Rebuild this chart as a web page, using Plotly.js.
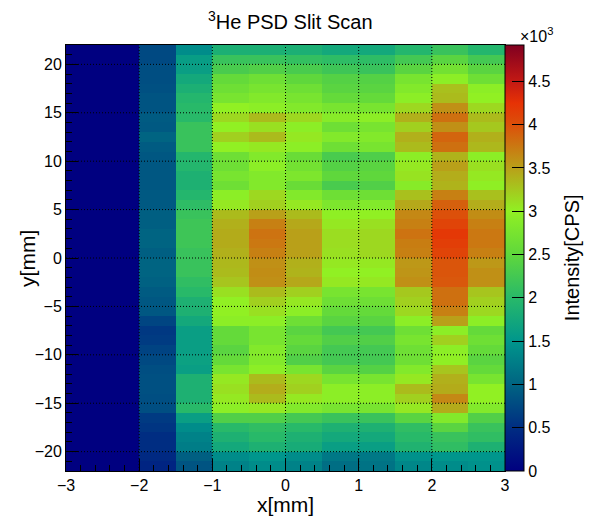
<!DOCTYPE html>
<html>
<head>
<meta charset="utf-8">
<script src="https://cdn.plot.ly/plotly-3.0.1.min.js"></script>
<style>html,body{margin:0;padding:0;background:#fff;}#plot{width:596px;height:516px;}</style>
</head>
<body>
<div id="plot"></div>
<script>
const xCenters = [-2.75, -2.25, -1.75, -1.25, -0.75, -0.25, 0.25, 0.75, 1.25, 1.75, 2.25, 2.75];
const yCenters = [21.5, 20.5, 19.5, 18.5, 17.5, 16.5, 15.5, 14.5, 13.5, 12.5, 11.5, 10.5,
  9.5, 8.5, 7.5, 6.5, 5.5, 4.5, 3.5, 2.5, 1.5, 0.5, -0.5, -1.5, -2.5, -3.5, -4.5, -5.5,
  -6.5, -7.5, -8.5, -9.5, -10.5, -11.5, -12.5, -13.5, -14.5, -15.5, -16.5, -17.5, -18.5,
  -19.5, -20.5, -21.5];
// intensity rows [CPS], top (y=21.5) to bottom (y=-21.5)
const intensityRows = [
  [0,0,750,1400,1850,1850,1850,1750,1750,1950,2150,1950],
  [0,0,750,1600,2150,2150,2100,2050,2050,2250,2450,2250],
  [0,0,800,1620,2300,2370,2300,2200,2150,2450,2700,2450],
  [0,0,800,1750,2550,2650,2500,2400,2400,2750,2950,2650],
  [0,0,820,1850,2650,2750,2650,2450,2450,2850,3300,2950],
  [0,0,850,1950,2750,2850,2750,2550,2550,2950,3330,3000],
  [0,0,850,2000,3000,2950,2850,2750,2750,3150,3600,3150],
  [0,0,920,2000,3150,3330,3150,2900,2950,3400,3800,3330],
  [0,0,900,2150,3000,3100,2950,2650,2750,3200,3600,3250],
  [0,0,1000,2150,3200,3330,3050,2850,2850,3400,3870,3400],
  [0,0,920,2150,3000,3050,2950,2650,2750,3330,3800,3350],
  [0,0,880,1950,2650,2850,2600,2300,2350,2950,3380,2950],
  [0,0,880,1950,2650,2950,2700,2400,2450,3050,3500,3100],
  [0,0,880,1870,2750,2850,2800,2500,2500,3080,3420,3050],
  [0,0,880,1870,2650,2850,2600,2300,2370,2900,3380,2980],
  [0,0,900,1950,2950,3150,2850,2650,2650,3300,3700,3300],
  [0,0,900,2050,3050,3200,3050,2800,2850,3450,3900,3420],
  [0,0,950,2150,3330,3500,3330,2980,3000,3650,4000,3620],
  [0,0,950,2200,3400,3700,3450,3050,3100,3700,4100,3700],
  [0,0,1000,2200,3430,3780,3500,3120,3150,3780,4200,3750],
  [0,0,1000,2200,3430,3750,3500,3120,3150,3720,4150,3750],
  [0,0,950,2150,3400,3700,3500,3100,3150,3700,4100,3700],
  [0,0,1000,2150,3350,3600,3400,3050,3050,3550,3970,3550],
  [0,0,1000,2150,3330,3620,3380,3000,3000,3570,3970,3600],
  [0,0,970,2070,3270,3600,3450,3050,3050,3600,3950,3600],
  [0,0,920,2000,3100,3330,3200,2750,2750,3250,3800,3270],
  [0,0,880,1870,3000,3200,3050,2650,2650,3200,3800,3200],
  [0,0,880,1870,3000,3100,2950,2550,2550,3150,3700,3150],
  [0,0,720,1750,2950,2950,2650,2450,2450,2950,3500,2950],
  [0,0,600,1620,2550,2750,2450,2250,2250,2650,2950,2550],
  [0,0,630,1620,2550,2750,2550,2370,2370,2750,3200,2650],
  [0,0,700,1620,2450,2850,2450,2250,2250,2650,2950,2550],
  [0,0,750,1650,2550,2850,2370,2250,2250,2650,2980,2450],
  [0,0,800,1620,2750,2950,2750,2450,2400,2850,3270,2550],
  [0,0,820,1870,3050,3330,3150,2750,2750,3050,3400,2750],
  [0,0,820,1870,3100,3420,3200,2950,2950,3330,3430,3000],
  [0,0,800,1870,3050,3330,3050,2950,2950,3200,3650,3000],
  [0,0,800,2000,2950,3050,2850,2750,2750,3050,3430,2850],
  [0,0,620,1620,2370,2370,2250,2150,2150,2450,2850,2370],
  [0,0,570,1400,2000,2070,2000,1870,1870,2070,2450,2150],
  [0,0,500,1300,1870,2000,1870,1750,1750,2000,2150,2070],
  [0,0,500,1250,1750,1870,1800,1620,1620,1900,2070,1870],
  [0,0,450,950,1400,1500,1400,1200,1200,1450,1500,1500],
  [0,0,400,850,1300,1400,1300,1100,1150,1350,1400,1450]
];
const xTickVals = [-3, -2, -1, 0, 1, 2, 3];
const xTickText = ['\u22123', '\u22122', '\u22121', '0', '1', '2', '3'];
const yTickVals = [-20, -15, -10, -5, 0, 5, 10, 15, 20];
const yTickText = ['\u221220', '\u221215', '\u221210', '\u22125', '0', '5', '10', '15', '20'];
const xGridVals = [-2, -1, 0, 1, 2];
const yGridVals = [-20, -15, -10, -5, 0, 5, 10, 15, 20];
const zTickVals = [0, 500, 1000, 1500, 2000, 2500, 3000, 3500, 4000, 4500];
const zTickText = ['0', '0.5', '1', '1.5', '2', '2.5', '3', '3.5', '4', '4.5'];
const zMax = 4920;
const paletteVals = [0, 500, 1000, 1500, 2000, 2500, 3000, 3500, 4000, 4250, 4500, 4920];
const paletteCols = ['rgb(0,0,128)', 'rgb(0,45,130)', 'rgb(0,100,130)', 'rgb(0,150,140)',
  'rgb(40,185,105)', 'rgb(95,215,60)', 'rgb(145,240,35)', 'rgb(185,160,25)',
  'rgb(220,80,10)', 'rgb(230,50,5)', 'rgb(195,25,20)', 'rgb(128,0,32)'];

const colorscale = paletteVals.map((v, i) => [v / zMax, paletteCols[i]]);
const z = intensityRows.slice().reverse();
const y = yCenters.slice().reverse();

const FONT = 'Liberation Sans, Arial, Helvetica, sans-serif';

const trace = {
  type: 'heatmap',
  x: xCenters,
  y: y,
  z: z,
  zmin: 0,
  zmax: zMax,
  zsmooth: false,
  colorscale: colorscale,
  colorbar: {
    x: 1, xanchor: 'left', xpad: 0, xref: 'paper',
    y: 0.5, yanchor: 'middle', ypad: 0, len: 1, lenmode: 'fraction',
    thickness: 19, thicknessmode: 'pixels',
    outlinewidth: 1, outlinecolor: '#000',
    tickmode: 'array', tickvals: zTickVals, ticktext: zTickText,
    ticks: 'inside', ticklen: 12, tickcolor: '#000', tickwidth: 1,
    tickfont: {family: FONT, size: 16, color: '#000'}
  },
  hoverinfo: 'x+y+z'
};

const shapes = [];
xGridVals.forEach(v => shapes.push({type: 'line', xref: 'x', yref: 'paper', x0: v, x1: v, y0: 0, y1: 1,
  line: {color: '#000', width: 1, dash: '1px,2px'}, layer: 'above'}));
yGridVals.forEach(v => shapes.push({type: 'line', xref: 'paper', yref: 'y', x0: 0, x1: 1, y0: v, y1: v,
  line: {color: '#000', width: 1, dash: '1px,2px'}, layer: 'above'}));

const layout = {
  width: 596, height: 516,
  margin: {l: 66, r: 91, t: 45, b: 45, pad: 0},
  paper_bgcolor: '#fff', plot_bgcolor: '#fff',
  font: {family: FONT, color: '#000'},
  title: {text: '<sup>3</sup>He PSD Slit Scan', font: {family: FONT, size: 20, color: '#000'},
    x: 0.487, xref: 'container', xanchor: 'center', y: 0.957, yref: 'container', yanchor: 'middle'},
  xaxis: {
    range: [-3, 3], autorange: false,
    tickmode: 'array', tickvals: xTickVals, ticktext: xTickText,
    ticks: 'inside', ticklen: 12, tickcolor: '#000', tickwidth: 1,
    minor: {dtick: 0.2, tick0: 0, ticks: 'inside', ticklen: 6, tickcolor: '#000', showgrid: false},
    showgrid: false, zeroline: false,
    showline: true, linecolor: '#000', linewidth: 1, mirror: true,
    layer: 'above traces',
    tickfont: {family: FONT, size: 16, color: '#000'},
    title: {text: 'x[mm]', font: {family: FONT, size: 21, color: '#000'}, standoff: 3}
  },
  yaxis: {
    range: [-22, 22], autorange: false,
    tickmode: 'array', tickvals: yTickVals, ticktext: yTickText,
    ticks: 'inside', ticklen: 12, tickcolor: '#000', tickwidth: 1,
    minor: {dtick: 1, tick0: 0, ticks: 'inside', ticklen: 6, tickcolor: '#000', showgrid: false},
    showgrid: false, zeroline: false,
    showline: true, linecolor: '#000', linewidth: 1, mirror: true,
    layer: 'above traces',
    tickfont: {family: FONT, size: 16, color: '#000'}
  },
  shapes: shapes,
  annotations: [
    {text: '\u00d710<sup>3</sup>', xref: 'paper', yref: 'paper', x: 1.03, y: 0.995,
     xanchor: 'left', yanchor: 'bottom', showarrow: false,
     font: {family: FONT, size: 16, color: '#000'}},
    {text: 'y[mm]', xref: 'paper', yref: 'paper', x: -0.089, y: 0.5, textangle: -90,
     xanchor: 'center', yanchor: 'middle', showarrow: false,
     font: {family: FONT, size: 21, color: '#000'}},
    {text: 'Intensity[CPS]', xref: 'paper', yref: 'paper', x: 1.153, y: 0.5, textangle: -90,
     xanchor: 'center', yanchor: 'middle', showarrow: false,
     font: {family: FONT, size: 20, color: '#000'}}
  ]
};

Plotly.newPlot('plot', [trace], layout, {displayModeBar: false, staticPlot: true});
</script>
</body>
</html>
